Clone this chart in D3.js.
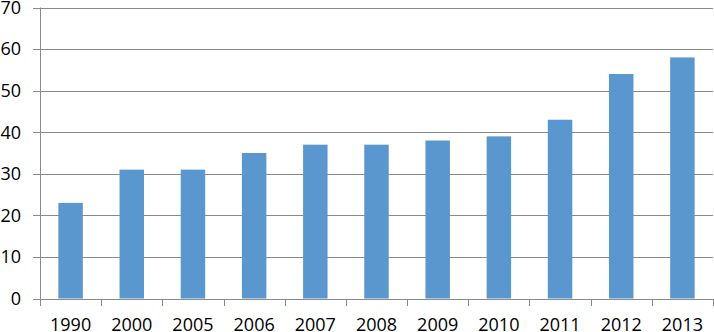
<!DOCTYPE html>
<html>
<head>
<meta charset="utf-8">
<script src="https://cdn.jsdelivr.net/npm/d3@7"></script>
<style>
  body { margin: 0; background: #fff; }
  svg text { font-family: "Open Sans", sans-serif; font-size: 18px; fill: #000; }
</style>
</head>
<body>
<script>
const WIDTH = 714;
const HEIGHT = 332;

var years = ['1990', '2000', '2005', '2006', '2007', '2008', '2009', '2010', '2011', '2012', '2013'];
var values = [23, 31, 31, 35, 37, 37, 38, 39, 43, 54, 58];
var yTicks = [0, 10, 20, 30, 40, 50, 60, 70];

var plotLeft = 40, plotRight = 713, plotTop = 7.5, plotBottom = 298.5;

var svg = d3.select('body').append('svg')
    .attr('width', WIDTH)
    .attr('height', HEIGHT);

var xScale = d3.scaleBand()
    .domain(years)
    .range([plotLeft, plotRight])
    .paddingInner(0.6)
    .paddingOuter(0.3);

var yScale = d3.scaleLinear()
    .domain([0, 70])
    .range([plotBottom, plotTop]);

// gridlines
svg.append('g')
    .selectAll('line')
    .data(yTicks)
    .enter()
    .append('line')
    .attr('x1', plotLeft - 7)
    .attr('x2', plotRight)
    .attr('y1', function (d) { return Math.round(yScale(d)) + 0.5; })
    .attr('y2', function (d) { return Math.round(yScale(d)) + 0.5; })
    .attr('stroke', '#8a8a8a')
    .attr('stroke-width', 1);

// y labels
svg.append('g')
    .selectAll('text')
    .data(yTicks)
    .enter()
    .append('text')
    .attr('x', 21)
    .attr('y', function (d) { return yScale(d); })
    .attr('dy', '0.35em')
    .attr('text-anchor', 'end')
    .text(function (d) { return d; });

// bars
svg.append('g')
    .selectAll('rect')
    .data(values)
    .enter()
    .append('rect')
    .attr('x', function (d, i) { return xScale(years[i]); })
    .attr('width', xScale.bandwidth())
    .attr('y', function (d) { return yScale(d); })
    .attr('height', function (d) { return yScale(0) - yScale(d); })
    .attr('fill', '#5b97cf');

// y axis line
svg.append('line')
    .attr('x1', plotLeft + 0.5).attr('x2', plotLeft + 0.5)
    .attr('y1', plotTop).attr('y2', plotBottom + 1)
    .attr('stroke', '#8a8a8a');

// x axis ticks at category boundaries
var step = (plotRight - plotLeft) / years.length;
var boundaries = d3.range(years.length + 1).map(function (i) { return plotLeft + i * step; });
svg.append('g')
    .selectAll('line')
    .data(boundaries)
    .enter()
    .append('line')
    .attr('x1', function (d) { return Math.round(d) + 0.5; })
    .attr('x2', function (d) { return Math.round(d) + 0.5; })
    .attr('y1', Math.round(plotBottom))
    .attr('y2', Math.round(plotBottom) + 7)
    .attr('stroke', '#8a8a8a');

// x labels
svg.append('g')
    .selectAll('text')
    .data(years)
    .enter()
    .append('text')
    .attr('x', function (d) { return xScale(d) + xScale.bandwidth() / 2; })
    .attr('y', 331)
    .attr('text-anchor', 'middle')
    .text(function (d) { return d; });
</script>
</body>
</html>
